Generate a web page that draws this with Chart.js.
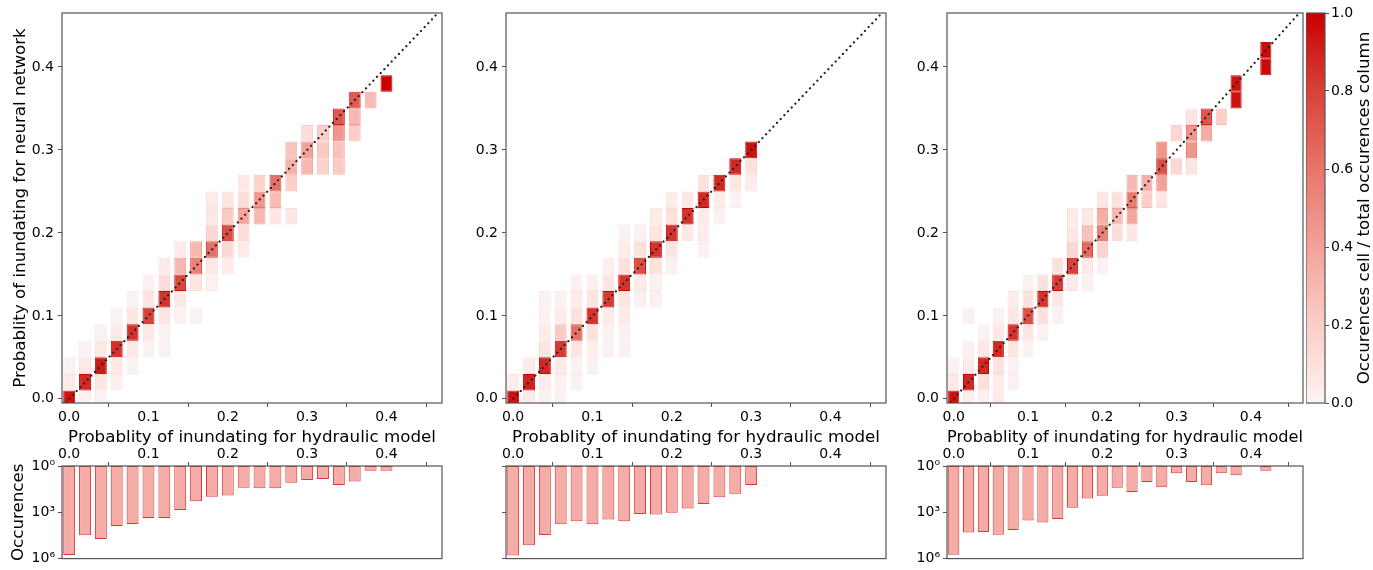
<!DOCTYPE html>
<html>
<head>
<meta charset="utf-8">
<script src="https://cdn.jsdelivr.net/npm/chart.js@4.4.0/dist/chart.umd.min.js"></script>
<style>
  body { margin: 0; background: #fff; width: 1373px; height: 570px; overflow: hidden; position: relative; }
  canvas { position: absolute; }
</style>
</head>
<body>
<canvas id="heat1"></canvas>
<canvas id="heat2"></canvas>
<canvas id="heat3"></canvas>
<canvas id="bars1"></canvas>
<canvas id="bars2"></canvas>
<canvas id="bars3"></canvas>
<canvas id="colorbar"></canvas>
<script>
// Bin centres (hydraulic model probability) and axis ticks
const binCenters = [0, 0.02, 0.04, 0.06, 0.08, 0.10, 0.12, 0.14, 0.16, 0.18, 0.20,
                    0.22, 0.24, 0.26, 0.28, 0.30, 0.32, 0.34, 0.36, 0.38, 0.40, 0.42];
const probTicks = [0, 0.1, 0.2, 0.3, 0.4];
const occTicks = [1, 1e3, 1e6];
const occTickLabels = ['10⁰', '10³', '10⁶'];
const colorbarTicks = [0, 0.2, 0.4, 0.6, 0.8, 1.0];

const xLabel = 'Probablity of inundating for hydraulic model';
const yLabel = 'Probablity of inundating for neural network';
const occLabel = 'Occurences';
const colorbarLabel = 'Occurences cell / total occurences column';

// Heatmap cells: [hydraulic bin, network bin, cell / column ratio]
const panel1Cells = [
    [0, 0, 0.95], [0, 0.02, 0.05], [0, 0.04, 0.015],
    [0.02, 0, 0.02], [0.02, 0.02, 0.88], [0.02, 0.04, 0.06], [0.02, 0.06, 0.015],
    [0.04, 0, 0.015], [0.04, 0.02, 0.07], [0.04, 0.04, 0.92], [0.04, 0.06, 0.06], [0.04, 0.08, 0.015],
    [0.06, 0.02, 0.03], [0.06, 0.04, 0.06], [0.06, 0.06, 0.85], [0.06, 0.08, 0.06], [0.06, 0.10, 0.015],
    [0.08, 0.04, 0.015], [0.08, 0.06, 0.06], [0.08, 0.08, 0.85], [0.08, 0.10, 0.07], [0.08, 0.12, 0.015],
    [0.10, 0.06, 0.015], [0.10, 0.08, 0.06], [0.10, 0.10, 0.8], [0.10, 0.12, 0.08], [0.10, 0.14, 0.015],
    [0.12, 0.06, 0.015], [0.12, 0.08, 0.015], [0.12, 0.10, 0.08], [0.12, 0.12, 0.85], [0.12, 0.14, 0.12], [0.12, 0.16, 0.05],
    [0.14, 0.10, 0.02], [0.14, 0.12, 0.06], [0.14, 0.14, 0.78], [0.14, 0.16, 0.3], [0.14, 0.18, 0.05],
    [0.16, 0.10, 0.015], [0.16, 0.14, 0.08], [0.16, 0.16, 0.55], [0.16, 0.18, 0.3],
    [0.18, 0.14, 0.02], [0.18, 0.16, 0.06], [0.18, 0.18, 0.62], [0.18, 0.20, 0.15], [0.18, 0.22, 0.06], [0.18, 0.24, 0.05],
    [0.20, 0.16, 0.04], [0.20, 0.18, 0.14], [0.20, 0.20, 0.75], [0.20, 0.22, 0.22], [0.20, 0.24, 0.08],
    [0.22, 0.18, 0.05], [0.22, 0.20, 0.12], [0.22, 0.22, 0.38], [0.22, 0.24, 0.12], [0.22, 0.26, 0.06],
    [0.24, 0.22, 0.3], [0.24, 0.24, 0.45], [0.24, 0.26, 0.18],
    [0.26, 0.22, 0.07], [0.26, 0.24, 0.28], [0.26, 0.26, 0.62],
    [0.28, 0.22, 0.07], [0.28, 0.26, 0.2], [0.28, 0.28, 0.33], [0.28, 0.30, 0.25],
    [0.30, 0.28, 0.3], [0.30, 0.30, 0.4], [0.30, 0.32, 0.12],
    [0.32, 0.28, 0.18], [0.32, 0.30, 0.22], [0.32, 0.32, 0.2],
    [0.34, 0.28, 0.22], [0.34, 0.30, 0.25], [0.34, 0.32, 0.45], [0.34, 0.34, 0.72],
    [0.36, 0.32, 0.2], [0.36, 0.34, 0.3], [0.36, 0.36, 0.7],
    [0.38, 0.36, 0.28],
    [0.40, 0.38, 1.0]
];
const panel2Cells = [
    [0, 0, 0.95], [0, 0.02, 0.04],
    [0.02, 0, 0.04], [0.02, 0.02, 0.9], [0.02, 0.04, 0.04],
    [0.04, 0, 0.015], [0.04, 0.02, 0.04], [0.04, 0.04, 0.88], [0.04, 0.06, 0.08], [0.04, 0.08, 0.04], [0.04, 0.10, 0.015], [0.04, 0.12, 0.015],
    [0.06, 0, 0.015], [0.06, 0.02, 0.015], [0.06, 0.04, 0.05], [0.06, 0.06, 0.82], [0.06, 0.08, 0.22], [0.06, 0.10, 0.04], [0.06, 0.12, 0.015],
    [0.08, 0.02, 0.015], [0.08, 0.04, 0.015], [0.08, 0.06, 0.08], [0.08, 0.08, 0.62], [0.08, 0.10, 0.1], [0.08, 0.12, 0.04], [0.08, 0.14, 0.015],
    [0.10, 0.04, 0.015], [0.10, 0.06, 0.03], [0.10, 0.08, 0.1], [0.10, 0.10, 0.85], [0.10, 0.12, 0.08], [0.10, 0.14, 0.03],
    [0.12, 0.06, 0.015], [0.12, 0.08, 0.015], [0.12, 0.10, 0.05], [0.12, 0.12, 0.82], [0.12, 0.14, 0.08], [0.12, 0.16, 0.03],
    [0.14, 0.06, 0.015], [0.14, 0.08, 0.015], [0.14, 0.10, 0.04], [0.14, 0.12, 0.08], [0.14, 0.14, 0.85], [0.14, 0.16, 0.1], [0.14, 0.18, 0.04], [0.14, 0.20, 0.015],
    [0.16, 0.12, 0.015], [0.16, 0.14, 0.05], [0.16, 0.16, 0.75], [0.16, 0.18, 0.1], [0.16, 0.20, 0.015],
    [0.18, 0.12, 0.015], [0.18, 0.14, 0.015], [0.18, 0.16, 0.1], [0.18, 0.18, 0.85], [0.18, 0.20, 0.08], [0.18, 0.22, 0.04],
    [0.20, 0.16, 0.015], [0.20, 0.18, 0.08], [0.20, 0.20, 0.85], [0.20, 0.22, 0.1], [0.20, 0.24, 0.04],
    [0.22, 0.20, 0.06], [0.22, 0.22, 0.85], [0.22, 0.24, 0.06],
    [0.24, 0.18, 0.015], [0.24, 0.20, 0.04], [0.24, 0.22, 0.05], [0.24, 0.24, 0.88], [0.24, 0.26, 0.1],
    [0.26, 0.22, 0.015], [0.26, 0.24, 0.04], [0.26, 0.26, 0.88],
    [0.28, 0.24, 0.015], [0.28, 0.26, 0.08], [0.28, 0.28, 0.88],
    [0.30, 0.26, 0.04], [0.30, 0.28, 0.1], [0.30, 0.30, 0.95]
];
const panel3Cells = [
    [0, 0, 0.95], [0, 0.02, 0.05], [0, 0.04, 0.015],
    [0.02, 0, 0.03], [0.02, 0.02, 0.88], [0.02, 0.04, 0.05], [0.02, 0.06, 0.015], [0.02, 0.10, 0.015],
    [0.04, 0, 0.03], [0.04, 0.02, 0.1], [0.04, 0.04, 0.88], [0.04, 0.06, 0.06], [0.04, 0.08, 0.015],
    [0.06, 0, 0.05], [0.06, 0.02, 0.04], [0.06, 0.04, 0.1], [0.06, 0.06, 0.88], [0.06, 0.08, 0.06], [0.06, 0.10, 0.015],
    [0.08, 0.02, 0.015], [0.08, 0.04, 0.015], [0.08, 0.06, 0.08], [0.08, 0.08, 0.85], [0.08, 0.10, 0.08], [0.08, 0.12, 0.04],
    [0.10, 0.06, 0.015], [0.10, 0.08, 0.08], [0.10, 0.10, 0.75], [0.10, 0.12, 0.1], [0.10, 0.14, 0.015],
    [0.12, 0.08, 0.015], [0.12, 0.10, 0.1], [0.12, 0.12, 0.85], [0.12, 0.14, 0.1],
    [0.14, 0.10, 0.015], [0.14, 0.12, 0.06], [0.14, 0.14, 0.82], [0.14, 0.16, 0.1],
    [0.16, 0.14, 0.05], [0.16, 0.16, 0.8], [0.16, 0.18, 0.15], [0.16, 0.20, 0.06], [0.16, 0.22, 0.05],
    [0.18, 0.14, 0.02], [0.18, 0.16, 0.05], [0.18, 0.18, 0.65], [0.18, 0.20, 0.25], [0.18, 0.22, 0.06],
    [0.20, 0.16, 0.015], [0.20, 0.18, 0.18], [0.20, 0.20, 0.55], [0.20, 0.22, 0.35], [0.20, 0.24, 0.07],
    [0.22, 0.20, 0.12], [0.22, 0.22, 0.3], [0.22, 0.24, 0.1],
    [0.24, 0.20, 0.07], [0.24, 0.22, 0.38], [0.24, 0.24, 0.58], [0.24, 0.26, 0.3],
    [0.26, 0.24, 0.2], [0.26, 0.26, 0.35],
    [0.28, 0.24, 0.08], [0.28, 0.26, 0.4], [0.28, 0.28, 0.75], [0.28, 0.30, 0.45],
    [0.30, 0.28, 0.15], [0.30, 0.32, 0.15],
    [0.32, 0.28, 0.08], [0.32, 0.30, 0.45], [0.32, 0.32, 0.45], [0.32, 0.34, 0.08],
    [0.34, 0.32, 0.35], [0.34, 0.34, 0.72],
    [0.36, 0.34, 0.2],
    [0.38, 0.36, 0.95], [0.38, 0.38, 0.95],
    [0.42, 0.40, 0.97], [0.42, 0.42, 0.97]
];

// Occurences per hydraulic-model bin (same order as binCenters, null = empty)
const panel1Counts = [575000, 31000, 54000, 7600, 5700, 2350, 2350, 720, 195, 100, 83,
                      26, 28, 28, 12, 8, 7, 17, 10, 2, 2, null];
const panel2Counts = [630000, 135000, 29500, 5900, 3800, 5900, 2900, 3800, 1290, 1410, 1050,
                      560, 290, 107, 63, 17, null, null, null, null, null, null];
const panel3Counts = [562000, 20400, 18600, 28800, 14100, 3400, 4500, 2700, 510, 129, 85,
                      26, 48, 11, 24, 3, 11, 18, 3, 4, null, 2];

// Axis ranges
const xMin = -0.009, xMax = 0.47;
const yMin = -0.005, yMax = 0.465;

// Colour map (white-grey -> red)
const cmapStops = [0, 0.04, 0.2, 0.4, 0.6, 0.8, 1];
const cmapColors = [[247, 246, 246], [254, 236, 234], [251, 206, 200], [243, 162, 153],
                    [232, 117, 106], [216, 66, 56], [200, 0, 0]];

function cmap(v) {
    v = Math.max(0, Math.min(1, v));
    for (let i = 1; i < cmapStops.length; i++) {
        if (v <= cmapStops[i]) {
            const t = (v - cmapStops[i - 1]) / (cmapStops[i] - cmapStops[i - 1]);
            const a = cmapColors[i - 1], b = cmapColors[i];
            return `rgb(${a.map((c, k) => Math.round(c + (b[k] - c) * t)).join(',')})`;
        }
    }
    return `rgb(${cmapColors[cmapColors.length - 1].join(',')})`;
}

Chart.defaults.font.family = '"DejaVu Sans", sans-serif';
Chart.defaults.font.size = 14;
Chart.defaults.color = '#000';

const tickFont = { size: 14 };
const titleFont = { size: 16.7 };
const axisGrey = '#555';
const binHalf = (binCenters[1] - binCenters[0]) / 2;

// Draw the full box around the plot area
const framePlugin = {
    id: 'frame',
    afterDraw(chart) {
        const { ctx, chartArea: a } = chart;
        ctx.save();
        ctx.strokeStyle = axisGrey;
        ctx.lineWidth = 1.2;
        ctx.strokeRect(a.left, a.top, a.right - a.left, a.bottom - a.top);
        ctx.restore();
    }
};

function tickGrid() {
    return { display: true, drawOnChartArea: false, drawTicks: true, tickLength: 4, color: axisGrey };
}

function placeCanvas(id, left, top, width, height) {
    const c = document.getElementById(id);
    c.width = width;
    c.height = height;
    c.style.left = left + 'px';
    c.style.top = top + 'px';
    c.style.width = width + 'px';
    c.style.height = height + 'px';
    return c;
}

// Plot areas of the three columns
const panels = [
    { left: 62, right: 442, cells: panel1Cells, counts: panel1Counts, yTitle: true, occLabels: true },
    { left: 506, right: 886, cells: panel2Cells, counts: panel2Counts, yTitle: false, occLabels: false },
    { left: 947, right: 1303, cells: panel3Cells, counts: panel3Counts, yTitle: false, occLabels: true }
];

function makeHeatmap(id, p) {
    const canvas = placeCanvas(id, p.left - 62, 0, p.right - p.left + 66, 450);
    new Chart(canvas, {
        type: 'bar',
        data: {
            datasets: [{
                type: 'bar',
                order: 1,
                data: p.cells.map(c => ({ x: c[0], y: [c[1] - binHalf, c[1] + binHalf], v: c[2] })),
                backgroundColor: ctx => ctx.raw ? cmap(ctx.raw.v) : 'transparent',
                borderColor: ctx => ctx.raw ? cmap(ctx.raw.v > 0.9 ? ctx.raw.v : ctx.raw.v * 1.2 + 0.04) : 'transparent',
                borderWidth: 1,
                borderSkipped: false,
                barPercentage: 0.75,
                categoryPercentage: 1,
                grouped: false
            }, {
                // identity line y = x, drawn over the cells
                type: 'line',
                order: 0,
                data: [{ x: xMin, y: xMin }, { x: xMax, y: xMax }],
                borderColor: '#222',
                borderWidth: 2.2,
                borderDash: [0.1, 5.2],
                borderCapStyle: 'round',
                pointRadius: 0,
                clip: 0
            }]
        },
        options: {
            responsive: false,
            animation: false,
            devicePixelRatio: 1,
            layout: { padding: { top: 13, right: 4, left: 0, bottom: 0 } },
            plugins: { legend: { display: false }, tooltip: { enabled: false } },
            scales: {
                x: {
                    type: 'linear', min: xMin, max: xMax, offset: false,
                    afterBuildTicks: s => { s.ticks = probTicks.map(v => ({ value: v })); },
                    afterFit: s => { s.height = 47; },
                    grid: tickGrid(), border: { display: false },
                    ticks: { font: tickFont, color: '#000', padding: 2, maxRotation: 0, autoSkip: false,
                             callback: v => v.toFixed(1) },
                    title: { display: true, text: xLabel, font: titleFont, color: '#000', padding: { top: 0, bottom: 2 } }
                },
                y: {
                    type: 'linear', min: yMin, max: yMax,
                    afterBuildTicks: s => { s.ticks = probTicks.map(v => ({ value: v })); },
                    afterFit: s => { s.width = 62; },
                    grid: tickGrid(), border: { display: false },
                    ticks: { font: tickFont, color: '#000', padding: 4, autoSkip: false,
                             callback: v => v.toFixed(1) },
                    title: { display: p.yTitle, text: yLabel, font: titleFont, color: '#000', padding: { top: 11, bottom: 0 } }
                }
            }
        },
        plugins: [framePlugin]
    });
}

function makeBars(id, p) {
    const canvas = placeCanvas(id, p.left - 62, 442, p.right - p.left + 66, 128);
    const data = [];
    binCenters.forEach((x, i) => {
        if (p.counts[i] != null) data.push({ x: x, y: [1, p.counts[i]] });
    });
    new Chart(canvas, {
        type: 'bar',
        data: {
            datasets: [{
                data: data,
                backgroundColor: '#f4aca6',
                borderColor: '#d63a3a',
                borderWidth: 1,
                borderSkipped: false,
                barPercentage: 0.75,
                categoryPercentage: 1
            }]
        },
        options: {
            responsive: false,
            animation: false,
            devicePixelRatio: 1,
            layout: { padding: { top: 0, right: 4, left: 0, bottom: 6 } },
            plugins: { legend: { display: false }, tooltip: { enabled: false } },
            scales: {
                x: {
                    type: 'linear', position: 'top', min: xMin, max: xMax, offset: false,
                    afterBuildTicks: s => { s.ticks = probTicks.map(v => ({ value: v })); },
                    afterFit: s => { s.height = 24; },
                    grid: tickGrid(), border: { display: false },
                    ticks: { font: tickFont, color: '#000', padding: -1, maxRotation: 0, autoSkip: false,
                             callback: v => v.toFixed(1) }
                },
                y: {
                    type: 'logarithmic', reverse: true, min: 1, max: 1e6,
                    afterBuildTicks: s => { s.ticks = occTicks.map(v => ({ value: v })); },
                    afterFit: s => { s.width = 62; },
                    grid: tickGrid(), border: { display: false },
                    ticks: { font: tickFont, color: '#000', padding: 3, autoSkip: false,
                             callback: (v, i) => p.occLabels ? occTickLabels[i] : '' },
                    title: { display: p.yTitle, text: occLabel, font: titleFont, color: '#000', padding: { top: 9, bottom: 0 } }
                }
            }
        },
        plugins: [framePlugin]
    });
}

function makeColorbar() {
    const canvas = placeCanvas('colorbar', 1306, 0, 67, 450);
    const titlePlugin = {
        id: 'cbTitle',
        afterDraw(chart) {
            const { ctx, chartArea: a } = chart;
            ctx.save();
            ctx.translate(chart.width - 8, (a.top + a.bottom) / 2);
            ctx.rotate(-Math.PI / 2);
            ctx.font = '16.7px "DejaVu Sans"';
            ctx.textAlign = 'center';
            ctx.textBaseline = 'middle';
            ctx.fillStyle = '#000';
            ctx.fillText(colorbarLabel, 0, 0);
            ctx.restore();
        }
    };
    new Chart(canvas, {
        type: 'bar',
        data: {
            labels: [''],
            datasets: [{
                data: [[0, 1]],
                backgroundColor: ctx => {
                    const a = ctx.chart.chartArea;
                    if (!a) return cmap(0.5);
                    const g = ctx.chart.ctx.createLinearGradient(0, a.bottom, 0, a.top);
                    cmapStops.forEach((s, i) => g.addColorStop(s, `rgb(${cmapColors[i].join(',')})`));
                    return g;
                },
                borderWidth: 0,
                barPercentage: 1,
                categoryPercentage: 1
            }]
        },
        options: {
            responsive: false,
            animation: false,
            devicePixelRatio: 1,
            layout: { padding: { top: 13, right: 0, left: 0, bottom: 47 } },
            plugins: { legend: { display: false }, tooltip: { enabled: false } },
            scales: {
                x: { display: false },
                y: {
                    position: 'right', min: 0, max: 1,
                    afterBuildTicks: s => { s.ticks = colorbarTicks.map(v => ({ value: v })); },
                    afterFit: s => { s.width = 48; },
                    grid: tickGrid(), border: { display: false },
                    ticks: { font: tickFont, color: '#000', padding: 2, autoSkip: false,
                             callback: v => v.toFixed(1) }
                }
            }
        },
        plugins: [framePlugin, titlePlugin]
    });
}

panels.forEach((p, i) => {
    makeHeatmap('heat' + (i + 1), p);
    makeBars('bars' + (i + 1), p);
});
makeColorbar();
</script>
</body>
</html>
